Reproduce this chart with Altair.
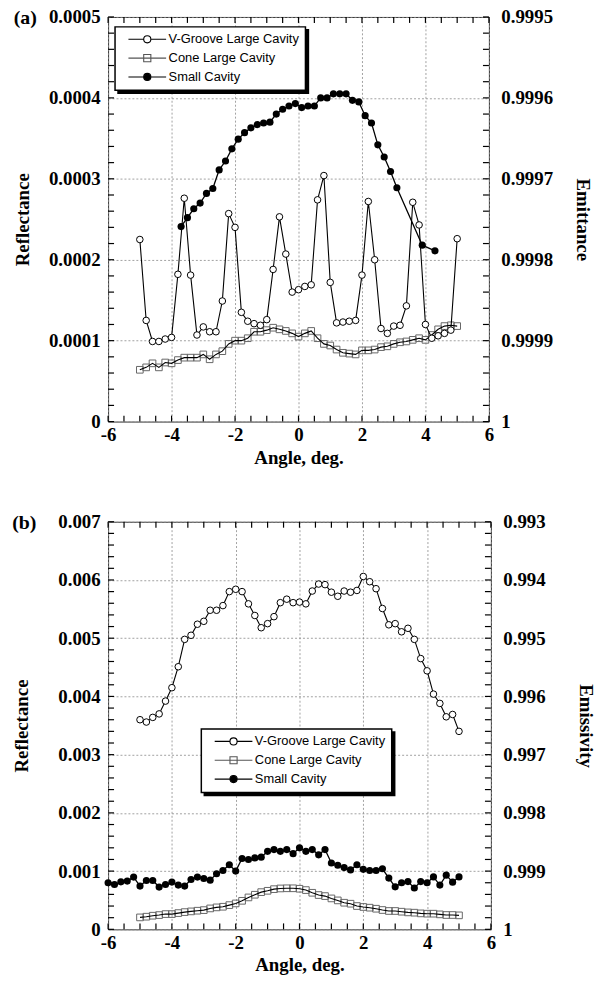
import altair as alt
import pandas as pd

# ---------------- data ----------------
SERIES = ["V-Groove Large Cavity", "Cone Large Cavity", "Small Cavity"]

ANGLE = [-5.0, -4.8, -4.6, -4.4, -4.2, -4.0, -3.8, -3.6, -3.4, -3.2, -3.0, -2.8, -2.6,
         -2.4, -2.2, -2.0, -1.8, -1.6, -1.4, -1.2, -1.0, -0.8, -0.6, -0.4, -0.2, 0.0,
         0.2, 0.4, 0.6, 0.8, 1.0, 1.2, 1.4, 1.6, 1.8, 2.0, 2.2, 2.4, 2.6, 2.8, 3.0,
         3.2, 3.4, 3.6, 3.8, 4.0, 4.2, 4.4, 4.6, 4.8, 5.0]

# panel (a)
A_VGROOVE = [0.000225, 0.000125, 0.000099, 0.000099, 0.000102, 0.000104, 0.000182, 0.000276,
             0.000181, 0.000107, 0.000117, 0.000111, 0.000111, 0.000149, 0.000257, 0.000240,
             0.000135, 0.000124, 0.000121, 0.000119, 0.000126, 0.000188, 0.000253, 0.000207,
             0.000160, 0.000163, 0.000167, 0.000169, 0.000274, 0.000304, 0.000172, 0.000122,
             0.000123, 0.000124, 0.000125, 0.000181, 0.000272, 0.000200, 0.000115, 0.000109,
             0.000118, 0.000119, 0.000143, 0.000271, 0.000243, 0.000120, 0.000103, 0.000106,
             0.000109, 0.000113, 0.000226]
A_CONE = [0.000064, 0.000067, 0.000072, 0.000067, 0.000073, 0.000072, 0.000076, 0.000079,
          0.000079, 0.000079, 0.000083, 0.000077, 0.000083, 0.000087, 0.000096, 0.000100,
          0.000100, 0.000103, 0.000111, 0.000111, 0.000113, 0.000116, 0.000114, 0.000112,
          0.000109, 0.000105, 0.000109, 0.000112, 0.000103, 0.000096, 0.000094, 0.000089,
          0.000085, 0.000084, 0.000083, 0.000088, 0.000088, 0.000089, 0.000092, 0.000093,
          0.000096, 0.000098, 0.000099, 0.000101, 0.000103, 0.000101, 0.000107, 0.000114,
          0.000118, 0.000119, 0.000118]
A_SMALL_ANGLE = [-3.7, -3.5, -3.3, -3.1, -2.9, -2.7, -2.5, -2.3, -2.1, -1.9, -1.7, -1.5, -1.3,
                 -1.1, -0.9, -0.7, -0.5, -0.3, -0.1, 0.1, 0.3, 0.5, 0.7, 0.9, 1.1, 1.3, 1.5,
                 1.7, 1.9, 2.1, 2.3, 2.5, 2.7, 2.9, 3.1, 3.9, 4.3]
A_SMALL = [0.000241, 0.000252, 0.000263, 0.000270, 0.000282, 0.000288, 0.000311, 0.000322,
           0.000337, 0.000349, 0.000357, 0.000363, 0.000367, 0.000369, 0.000370, 0.000380,
           0.000386, 0.000390, 0.000393, 0.000388, 0.000390, 0.000390, 0.000400, 0.000400,
           0.000405, 0.000405, 0.000405, 0.000397, 0.000395, 0.000378, 0.000369, 0.000342,
           0.000327, 0.000309, 0.000289, 0.000218, 0.000211]

# panel (b)
B_VGROOVE = [0.00360, 0.00356, 0.00364, 0.00370, 0.00392, 0.00415, 0.00451, 0.00498, 0.00505,
             0.00524, 0.00529, 0.00548, 0.00548, 0.00556, 0.00580, 0.00584, 0.00580, 0.00559,
             0.00539, 0.00518, 0.00525, 0.00537, 0.00561, 0.00567, 0.00561, 0.00562, 0.00559,
             0.00581, 0.00593, 0.00592, 0.00579, 0.00572, 0.00581, 0.00579, 0.00582, 0.00606,
             0.00597, 0.00585, 0.00551, 0.00523, 0.00525, 0.00511, 0.00517, 0.00498, 0.00465,
             0.00444, 0.00404, 0.00388, 0.00365, 0.00369, 0.00340]
B_CONE = [0.000205, 0.000217, 0.000234, 0.000245, 0.000262, 0.000262, 0.000279, 0.000296,
          0.000308, 0.000320, 0.000330, 0.000359, 0.000377, 0.000388, 0.000416, 0.000445,
          0.000490, 0.000548, 0.000594, 0.000639, 0.000662, 0.000690, 0.000702, 0.000705,
          0.000705, 0.000697, 0.000674, 0.000628, 0.000589, 0.000571, 0.000531, 0.000497,
          0.000457, 0.000440, 0.000400, 0.000384, 0.000372, 0.000354, 0.000332, 0.000315,
          0.000315, 0.000303, 0.000291, 0.000286, 0.000274, 0.000269, 0.000269, 0.000257,
          0.000246, 0.000246, 0.000240]
B_SMALL_ANGLE = [-6.0, -5.8, -5.6, -5.4, -5.2, -5.0, -4.8, -4.6, -4.4, -4.2, -4.0, -3.8, -3.6,
                 -3.4, -3.2, -3.0, -2.8, -2.6, -2.4, -2.2, -2.0, -1.8, -1.6, -1.4, -1.2, -1.0,
                 -0.8, -0.6, -0.4, -0.2, 0.0, 0.2, 0.4, 0.6, 0.8, 1.0, 1.2, 1.4, 1.6, 1.8,
                 2.0, 2.2, 2.4, 2.6, 2.8, 3.0, 3.2, 3.4, 3.6, 3.8, 4.0, 4.2, 4.4, 4.6, 4.8, 5.0]
B_SMALL = [0.00080, 0.00077, 0.000816, 0.000828, 0.000897, 0.000743, 0.000839, 0.000839,
           0.000726, 0.00077, 0.000811, 0.00076, 0.000743, 0.000856, 0.000897, 0.000873,
           0.000845, 0.000954, 0.00101, 0.00111, 0.00100, 0.001216, 0.00120, 0.001227,
           0.00124, 0.00134, 0.00137, 0.00134, 0.00137, 0.00130, 0.00140, 0.00134,
           0.00137, 0.00128, 0.00137, 0.00114, 0.00110, 0.00106, 0.00102, 0.00111,
           0.00103, 0.00101, 0.00101, 0.00104, 0.00088, 0.00073, 0.00080, 0.00082,
           0.00071, 0.00082, 0.00080, 0.00090, 0.00076, 0.00093, 0.00081, 0.00090]

# axis tick positions (minor; labels and grid only at the major ones)
X_MINOR = [-6, -5.5, -5, -4.5, -4, -3.5, -3, -2.5, -2, -1.5, -1, -0.5, 0,
           0.5, 1, 1.5, 2, 2.5, 3, 3.5, 4, 4.5, 5, 5.5, 6]
A_Y_MINOR = [i * 0.00002 for i in range(26)]
B_Y_MINOR = [i * 0.0002 for i in range(36)]

SERIF = "Liberation Serif"
SANS = "Liberation Sans"
FS = 19
GRID = "#8a8a8a"
TICK_LEN = 6

VG_PATH = "M-1,0L2.85,0M4.65,0L8.5,0M2.85,0A0.9,0.9,0,1,1,4.65,0A0.9,0.9,0,1,1,2.85,0Z"
CONE_PATH = "M-1,0L8.5,0M2.85,-0.9L4.65,-0.9L4.65,0.9L2.85,0.9Z"
SC_PATH = "M-1,0L8.5,0M2.85,0A0.9,0.9,0,1,1,4.65,0A0.9,0.9,0,1,1,2.85,0Z"
PATHS = [VG_PATH, CONE_PATH, SC_PATH]


def frame(angles, values, name):
    return pd.DataFrame({"angle": angles, "value": values, "series": name})


def legend_layer(df, X, Y, lx, ly, fills, strokes, box_fill, z, label_opacity):
    LEG = alt.Legend(title=None, orient="none", legendX=lx, legendY=ly,
                     fillColor=box_fill, strokeColor="black", zindex=z,
                     labelOpacity=label_opacity)
    return alt.Chart(df).transform_filter("false").mark_point(filled=True, opacity=1).encode(
        x=X, y=Y,
        shape=alt.Shape("series:N", scale=alt.Scale(domain=SERIES, range=PATHS), legend=LEG),
        fill=alt.Fill("series:N", scale=alt.Scale(domain=SERIES, range=fills), legend=LEG),
        stroke=alt.Stroke("series:N", scale=alt.Scale(domain=SERIES, range=strokes), legend=LEG),
    )


def panel(vg, cone, small, ymax, yminor, mult, fmt, right_title, W, H, lx, ly, tag,
          left_pad, right_pad):
    xs = alt.Scale(domain=[-6, 6], nice=False, zero=False)
    ys = alt.Scale(domain=[0, ymax], nice=False, zero=False)
    xmaj = "datum.value % 2 == 0"
    ymaj = "abs(datum.value * %d - round(datum.value * %d)) < 0.000001" % (mult, mult)
    X = alt.X("angle:Q", scale=xs, axis=alt.Axis(
        values=X_MINOR, title="Angle, deg.", ticks=False, domain=False, grid=True,
        gridColor=GRID, gridDash=[2, 2], gridWidth=0.8,
        gridOpacity={"condition": {"test": xmaj, "value": 1}, "value": 0},
        labelFlush=False, labelOverlap=False,
        labelExpr="%s ? '' + datum.value : ''" % xmaj, labelFont=SERIF, labelFontSize=FS,
        labelFontWeight="bold", labelColor="black", labelPadding=4,
        titleFont=SERIF, titleFontSize=FS, titleFontWeight="bold", titleColor="black",
        titlePadding=4))
    Y = alt.Y("value:Q", scale=ys, axis=alt.Axis(
        values=yminor, title="Reflectance", ticks=False, domain=False, grid=True,
        gridColor=GRID, gridDash=[2, 2], gridWidth=0.8,
        gridOpacity={"condition": {"test": ymaj, "value": 1}, "value": 0},
        labelFlush=False, labelOverlap=False,
        labelExpr="%s ? (datum.value == 0 ? '0' : format(datum.value, '%s')) : ''" % (ymaj, fmt),
        labelFont=SERIF, labelFontSize=FS, labelFontWeight="bold", labelColor="black",
        labelPadding=8, titleFont=SERIF, titleFontSize=FS, titleFontWeight="bold",
        titleColor="black", titlePadding=left_pad))

    # inward ticks on all four sides, placed by the shared scales
    xt = pd.DataFrame({"angle": X_MINOR})
    yt = pd.DataFrame({"value": yminor})
    tk = dict(size=TICK_LEN, thickness=1.2, color="black", opacity=1)
    t_bottom = alt.Chart(xt).mark_tick(orient="vertical", **tk).encode(
        x=X, y=alt.value(H - TICK_LEN / 2))
    t_top = alt.Chart(xt).mark_tick(orient="vertical", **tk).encode(
        x=X, y=alt.value(TICK_LEN / 2))
    t_left = alt.Chart(yt).mark_tick(orient="horizontal", **tk).encode(
        y=Y, x=alt.value(TICK_LEN / 2))
    t_right = alt.Chart(yt).mark_tick(orient="horizontal", **tk).encode(
        y=Y, x=alt.value(W - TICK_LEN / 2))

    cone_pts = alt.Chart(cone).mark_point(shape="square", size=45, stroke="#666",
                                          strokeWidth=1, opacity=1).encode(x=X, y=Y)
    cone_line = alt.Chart(cone).mark_line(color="black", strokeWidth=1.1).encode(x=X, y=Y)
    sc_line = alt.Chart(small).mark_line(color="black", strokeWidth=1.3).encode(x=X, y=Y)
    sc_pts = alt.Chart(small).mark_circle(size=52, color="black", opacity=1).encode(x=X, y=Y)
    vg_line = alt.Chart(vg).mark_line(color="black", strokeWidth=1.1).encode(x=X, y=Y)
    vg_pts = alt.Chart(vg).mark_point(shape="circle", size=44, filled=True, fill="white",
                                      stroke="black", strokeWidth=1, opacity=1).encode(x=X, y=Y)
    leg = legend_layer(vg, X, Y, lx, ly, ["white", "transparent", "black"],
                       ["black", "#555", "black"], "white", 2, 1)
    data_layer = alt.layer(t_bottom, t_top, t_left, t_right, cone_pts, cone_line,
                           sc_line, sc_pts, vg_line, vg_pts, leg)

    Xn = alt.X("angle:Q", scale=xs, axis=None)
    Yn = alt.Y("value:Q", scale=ys, axis=None)
    shadow = legend_layer(vg, Xn, Yn, lx + 3, ly + 3, ["black", "black", "black"],
                          ["black", "black", "black"], "black", 1, 0)

    r = alt.Chart(cone).mark_point(opacity=0).encode(
        x=alt.X("angle:Q", scale=xs, axis=None),
        y=alt.Y("value:Q", scale=ys, axis=alt.Axis(
            orient="right", values=yminor, ticks=False, domain=False, grid=False,
            labelFlush=False, labelOverlap=False,
            labelExpr="%s ? (datum.value == 0 ? '1' : format(1 - datum.value, '%s')) : ''" % (ymaj, fmt),
            labelFont=SERIF, labelFontSize=FS, labelFontWeight="bold", labelColor="black",
            labelPadding=12, title=right_title, titleFont=SERIF, titleFontSize=FS,
            titleFontWeight="bold", titleColor="black", titlePadding=right_pad)),
    )
    return alt.layer(data_layer, shadow, r).resolve_scale(
        x="independent", y="independent", shape="independent", fill="independent",
        stroke="independent"
    ).resolve_legend(
        shape="independent", fill="independent", stroke="independent"
    ).properties(
        width=W, height=H,
        title=alt.TitleParams(tag, anchor="start", frame="bounds", font=SERIF, fontSize=20,
                              fontWeight="bold", color="black", dy=20, offset=0),
    )


pa = panel(frame(ANGLE, A_VGROOVE, SERIES[0]), frame(ANGLE, A_CONE, SERIES[1]),
           frame(A_SMALL_ANGLE, A_SMALL, SERIES[2]), 0.0005, A_Y_MINOR, 10000,
           ".4f", "Emittance", 384, 408, 7, 10, "(a)", 16, 20)
pb = panel(frame(ANGLE, B_VGROOVE, SERIES[0]), frame(ANGLE, B_CONE, SERIES[1]),
           frame(B_SMALL_ANGLE, B_SMALL, SERIES[2]), 0.007, B_Y_MINOR, 1000,
           ".3f", "Emissivity", 386, 411, 94, 209, "(b)", 27, 31)

chart = alt.vconcat(pa, pb, spacing=44).resolve_scale(
    shape="independent", fill="independent", stroke="independent"
).resolve_legend(
    shape="independent", fill="independent", stroke="independent"
).properties(
    padding={"left": 11, "top": 3, "right": 2, "bottom": 2}
).configure_view(stroke="#333", strokeWidth=1).configure_legend(
    strokeWidth=1.5, padding=6,
    labelFont=SANS, labelFontSize=13, labelColor="black", labelOffset=30,
    symbolSize=64, symbolOffset=5, symbolStrokeWidth=1.1, rowPadding=5, labelLimit=400,
)

chart.save("out.html", embed_options={"renderer": "svg", "actions": False})
